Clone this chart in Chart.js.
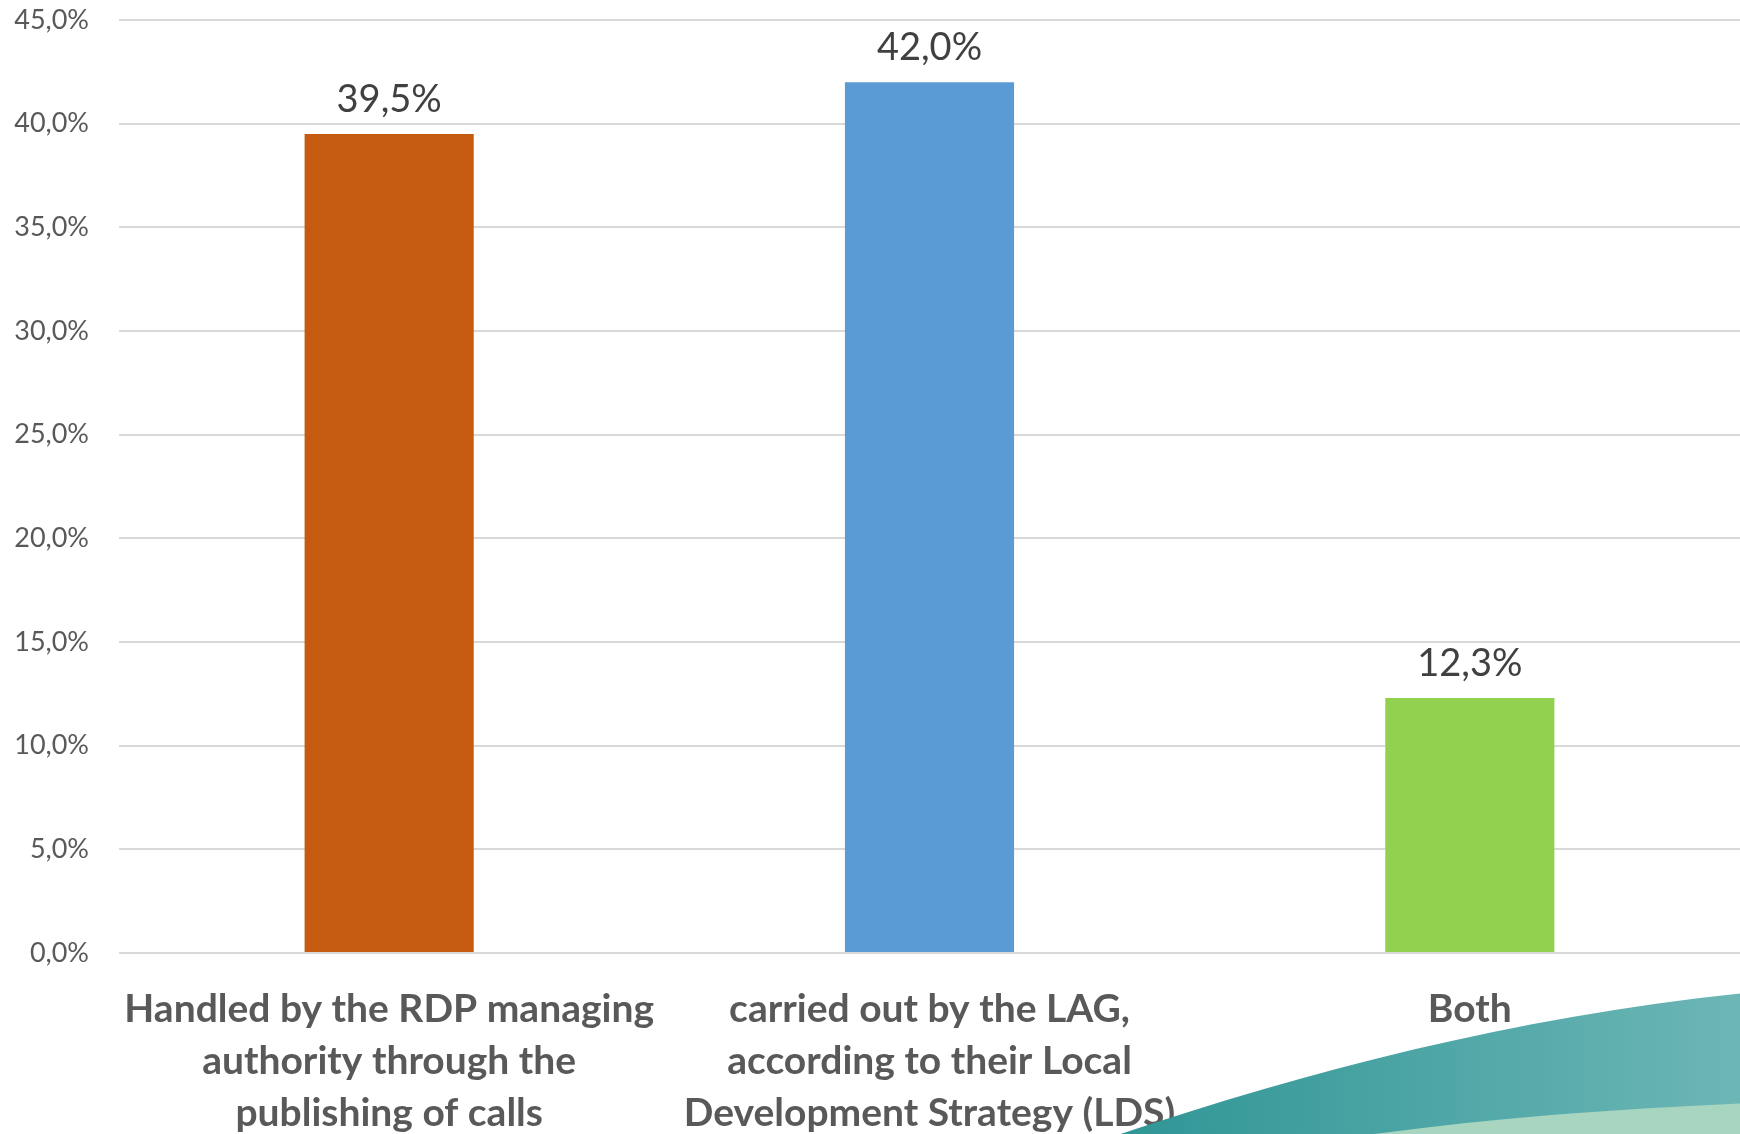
<!DOCTYPE html>
<html>
<head>
<meta charset="utf-8">
<script src="https://cdn.jsdelivr.net/npm/chart.js@4.4.1/dist/chart.umd.min.js"></script>
<style>
  html, body { margin: 0; padding: 0; background: #fff; }
  #wrap { width: 1740px; height: 1134px; position: relative; }
</style>
</head>
<body>
<div id="wrap"><canvas id="barChart" width="1740" height="1134"></canvas></div>
<script>
// chart data
const categories = [
  ['Handled by the RDP managing', 'authority through the', 'publishing of calls'],
  ['carried out by the LAG,', 'according to their Local', 'Development Strategy (LDS)'],
  'Both'
];
const shares = [39.5, 42.0, 12.3];
const barColors = ['#C55A11', '#5B9BD5', '#92D050'];
const yTicks = [0, 5, 10, 15, 20, 25, 30, 35, 40, 45];

const pct = v => v.toFixed(1).replace('.', ',') + '%';

// teal swoosh in the lower right corner (slide decoration)
const swoosh = {
  id: 'swoosh',
  afterDraw(chart) {
    const ctx = chart.ctx;
    const W = chart.width, H = chart.height;
    ctx.save();
    const g = ctx.createLinearGradient(W * 0.64, 0, W, 0);
    g.addColorStop(0, '#2F9595');
    g.addColorStop(1, '#6DB6B6');
    ctx.fillStyle = g;
    ctx.beginPath();
    ctx.moveTo(W * 0.644, H);
    ctx.bezierCurveTo(W * 0.75, H * 0.945, W * 0.87, H * 0.897, W, H * 0.876);
    ctx.lineTo(W, H);
    ctx.closePath();
    ctx.fill();
    ctx.fillStyle = '#A7D5BF';
    ctx.beginPath();
    ctx.moveTo(W * 0.79, H);
    ctx.bezierCurveTo(W * 0.86, H * 0.985, W * 0.93, H * 0.978, W, H * 0.973);
    ctx.lineTo(W, H);
    ctx.closePath();
    ctx.fill();
    ctx.restore();
  }
};

// value labels above bars
const valueLabels = {
  id: 'valueLabels',
  afterDatasetsDraw(chart) {
    const ctx = chart.ctx;
    const meta = chart.getDatasetMeta(0);
    ctx.save();
    ctx.font = '38px Lato';
    ctx.fillStyle = '#404040';
    ctx.textAlign = 'center';
    ctx.textBaseline = 'middle';
    meta.data.forEach((bar, i) => {
      ctx.fillText(pct(shares[i]), bar.x, bar.y - 34);
    });
    ctx.restore();
  }
};

new Chart(document.getElementById('barChart'), {
  type: 'bar',
  data: {
    labels: categories,
    datasets: [{
      data: shares,
      backgroundColor: barColors,
      barPercentage: 0.313,
      categoryPercentage: 1.0
    }]
  },
  options: {
    responsive: false,
    animation: false,
    layout: { padding: { top: 20, right: 0, bottom: 0, left: 0 } },
    plugins: { legend: { display: false }, tooltip: { enabled: false } },
    scales: {
      y: {
        min: 0,
        max: 45,
        afterBuildTicks: axis => { axis.ticks = yTicks.map(v => ({ value: v })); },
        afterFit: axis => {
          axis.width = 119;
          // tick padding otherwise gets added above/below the plot
          axis.paddingTop = 0;
          axis.paddingBottom = 0;
        },
        border: { display: false },
        grid: { color: '#D9D9D9', lineWidth: 2, drawTicks: false },
        ticks: {
          padding: 30,
          color: '#595959',
          font: { family: 'Lato', size: 27 },
          callback: v => pct(v)
        }
      },
      x: {
        afterFit: axis => { axis.height = 181; },
        border: { display: false },
        grid: { display: false },
        ticks: {
          padding: 22,
          maxRotation: 0,
          autoSkip: false,
          color: '#595959',
          font: { family: 'Lato', size: 39, weight: 'bold', lineHeight: '52px' }
        }
      }
    }
  },
  plugins: [swoosh, valueLabels]
});
</script>
</body>
</html>
